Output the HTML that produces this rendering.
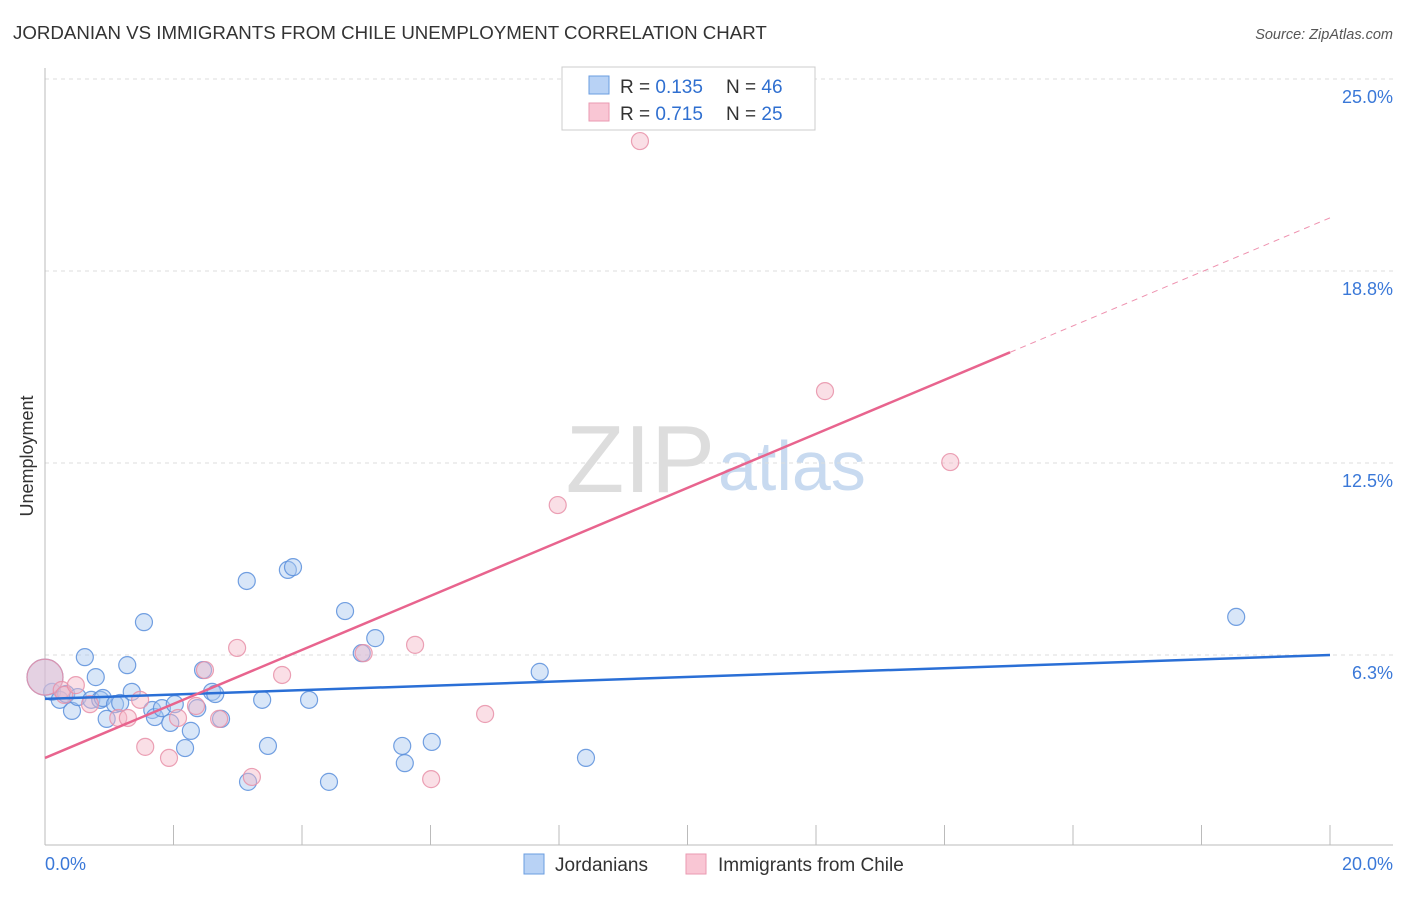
<!DOCTYPE html>
<html><head><meta charset="utf-8"><style>
body{margin:0;background:#fff;font-family:"Liberation Sans",sans-serif}
svg text{font-family:"Liberation Sans",sans-serif}
</style></head><body>
<svg id="c" width="1406" height="892">
<text x="13" y="39" font-size="18.7" fill="#333">JORDANIAN VS IMMIGRANTS FROM CHILE UNEMPLOYMENT CORRELATION CHART</text>
<text x="1393" y="39" font-size="14.5" fill="#555" font-style="italic" text-anchor="end">Source: ZipAtlas.com</text>
<text x="715" y="492" font-size="96" fill="#ddd" text-anchor="end" font-family="Liberation Serif">ZIP</text>
<text x="718" y="490" font-size="70" fill="#c8daf0">atlas</text>
<text transform="translate(33,456) rotate(-90)" font-size="18" fill="#333" text-anchor="middle">Unemployment</text>
<g id="grid"></g><g id="pts"></g><g id="lines"></g>
<rect x="562" y="67" width="253" height="63" fill="#fff" stroke="#ccc"/>
<rect x="589" y="76" width="20" height="18" fill="#b8d2f5" stroke="#6a9de0"/>
<rect x="589" y="103" width="20" height="18" fill="#f9c6d4" stroke="#ea9ab2"/>
<text x="620" y="93" font-size="19" fill="#333">R = <tspan fill="#2f6fd0">0.135</tspan></text>
<text x="726" y="93" font-size="19" fill="#333">N = <tspan fill="#2f6fd0">46</tspan></text>
<text x="620" y="120" font-size="19" fill="#333">R = <tspan fill="#2f6fd0">0.715</tspan></text>
<text x="726" y="120" font-size="19" fill="#333">N = <tspan fill="#2f6fd0">25</tspan></text>
<rect x="524" y="854" width="20" height="20" fill="#b8d2f5" stroke="#6a9de0"/>
<text x="555" y="871" font-size="19" fill="#333">Jordanians</text>
<rect x="686" y="854" width="20" height="20" fill="#f9c6d4" stroke="#ea9ab2"/>
<text x="718" y="871" font-size="19" fill="#333">Immigrants from Chile</text>
<text x="45" y="870" font-size="18" fill="#3a78d8">0.0%</text>
<text x="1393" y="870" font-size="18" fill="#3a78d8" text-anchor="end">20.0%</text>
</svg>
<script>
const yTicks=[25,18.75,12.5,6.25];
const yTickLabels=["25.0%","18.8%","12.5%","6.3%"];
const xTicks=[0,2,4,6,8,10,12,14,16,18,20];
const blueX=[0.11,0.23,0.33,0.42,0.51,0.62,0.72,0.79,0.86,0.90,0.96,1.09,1.17,1.28,1.35,1.54,1.67,1.71,1.82,1.95,2.02,2.18,2.27,2.37,2.46,2.60,2.65,2.74,3.14,3.16,3.38,3.47,3.78,3.86,4.11,4.42,4.67,4.93,5.14,5.56,5.60,6.02,7.70,8.42,18.54,0];
const blueY=[5.05,4.79,4.98,4.43,4.88,6.18,4.79,5.53,4.79,4.85,4.17,4.65,4.69,5.92,5.05,7.32,4.46,4.23,4.52,4.04,4.65,3.22,3.78,4.52,5.76,5.05,4.98,4.17,8.66,2.12,4.79,3.29,9.02,9.11,4.79,2.12,7.68,6.31,6.80,3.29,2.73,3.42,5.70,2.90,7.49,5.53];
const pinkX=[0,0.26,0.30,0.48,0.70,1.14,1.29,1.48,1.56,1.93,2.07,2.35,2.49,2.71,2.99,3.22,3.69,4.96,5.76,6.01,6.85,7.98,9.26,12.14,14.09];
const pinkY=[5.53,5.11,4.95,5.27,4.65,4.20,4.20,4.79,3.26,2.90,4.20,4.59,5.76,4.17,6.48,2.28,5.60,6.31,6.58,2.21,4.33,11.13,22.98,14.84,12.53];
const blueLine=[4.82,6.25];
const pinkLine=[2.90,20.48];
const pinkSolidEnd=15.02;
const X=v=>45+v/20*1285, Y=v=>847-v/6.25*192;
const NS="http://www.w3.org/2000/svg";
function mk(p,t,a){const e=document.createElementNS(NS,t);for(const k in a)e.setAttribute(k,a[k]);p.appendChild(e);return e;}
const g=document.getElementById('grid');
yTicks.forEach((v,i)=>{
 const l=mk(g,'line',{x1:45,x2:1393,y1:Y(v),y2:Y(v),stroke:'#ddd','stroke-dasharray':'4,4'});
 
 
 const t=mk(g,'text',{x:1393,y:Y(v)+24,'font-size':18,fill:'#3a78d8','text-anchor':'end'});t.textContent=yTickLabels[i];
 
 
});
const ax=mk(g,'line',{x1:45,x2:45,y1:68,y2:845,stroke:'#bbb'});


const bx=mk(g,'line',{x1:45,x2:1393,y1:845,y2:845,stroke:'#bbb'});


xTicks.forEach(v=>{const t=mk(g,'line',{x1:X(v),x2:X(v),y1:825,y2:845,stroke:'#bbb'});
 
 });
const p=document.getElementById('pts');
function dots(xs,ys,fill,stroke,name){xs.forEach((x,i)=>{const r=(x===0)?18:8.5;
 const c=mk(p,'circle',{cx:X(x),cy:Y(ys[i]),r:r,fill:fill,'fill-opacity':0.45,stroke:stroke,'stroke-width':1.2,'stroke-opacity':0.85});
 
 });}
dots(blueX,blueY,'#a9c8f0','#5b8fdc','jordanian-point');
dots(pinkX,pinkY,'#f5b8c8','#e890a8','chile-point');
const L=document.getElementById('lines');
const b=mk(L,'line',{x1:X(0),y1:Y(blueLine[0]),x2:X(20),y2:Y(blueLine[1]),stroke:'#2a6fd6','stroke-width':2.5});


const slope=(pinkLine[1]-pinkLine[0])/20;
const ps=mk(L,'line',{x1:X(0),y1:Y(pinkLine[0]),x2:X(pinkSolidEnd),y2:Y(pinkLine[0]+slope*pinkSolidEnd),stroke:'#e8648e','stroke-width':2.5});


const pd=mk(L,'line',{x1:X(pinkSolidEnd),y1:Y(pinkLine[0]+slope*pinkSolidEnd),x2:X(20),y2:Y(pinkLine[1]),stroke:'#e8648e','stroke-width':1,'stroke-dasharray':'6,5','opacity':0.7});


</script>
</body></html>
